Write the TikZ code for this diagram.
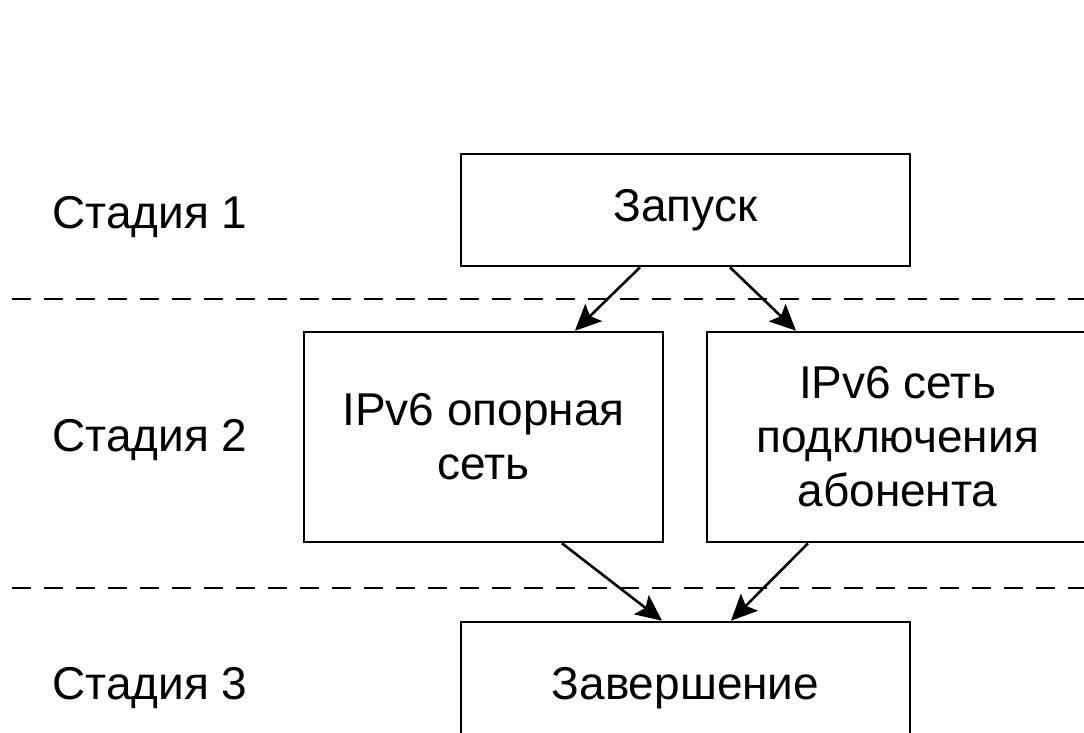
\documentclass[tikz,border=0pt]{standalone}
\usepackage{fontspec}
\setmainfont{Liberation Sans}
\usetikzlibrary{arrows.meta}
\begin{document}
\begin{tikzpicture}[x=1pt,y=-1pt,
  box/.style={draw,line width=2.6pt,minimum width=#1,inner sep=0pt,align=center,
    font=\fontsize{46}{54}\selectfont},
  lbl/.style={font=\fontsize{46}{54}\selectfont,inner sep=0pt},
  sep/.style={line width=2.6pt,dash pattern=on 19pt off 13pt},
  arr/.style={line width=2.6pt,-{Stealth[length=26pt,width=24pt,inset=5pt]}}]
\useasboundingbox (0,0) rectangle (1084,732);
\clip (0,0) rectangle (1084,732);
\fill[white] (0,0) rectangle (1084,732);
\node[box=449pt,minimum height=112pt] (top) at (685.5,210) {Запуск};
\node[box=359pt,minimum height=210pt] (left) at (483.5,437) {IPv6 опорная\\сеть};
\node[box=381pt,minimum height=210pt] (right) at (897.5,437) {IPv6 сеть\\подключения\\абонента};
\node[box=449pt,minimum height=132pt] (bot) at (685.5,688) {Завершение};
\node[lbl] (s1) at (150,217) {Стадия 1};
\node[lbl] (s2) at (150,440) {Стадия 2};
\node[lbl] (s3) at (150,688) {Стадия 3};
\coordinate (d1a) at (12,299); \coordinate (d1b) at (1090,299);
\coordinate (d2a) at (12,588); \coordinate (d2b) at (1090,588);
\draw[sep] (d1a) -- (d1b);
\draw[sep] (d2a) -- (d2b);
\draw[arr] (top.south -| 640,0) -- (left.north -| 575,0);
\draw[arr] (top.south -| 730,0) -- (right.north -| 796,0);
\draw[arr] (left.south -| 562,0) -- (bot.north -| 662,0);
\draw[arr] (right.south -| 808,0) -- (bot.north -| 731,0);
\end{tikzpicture}
\end{document}
